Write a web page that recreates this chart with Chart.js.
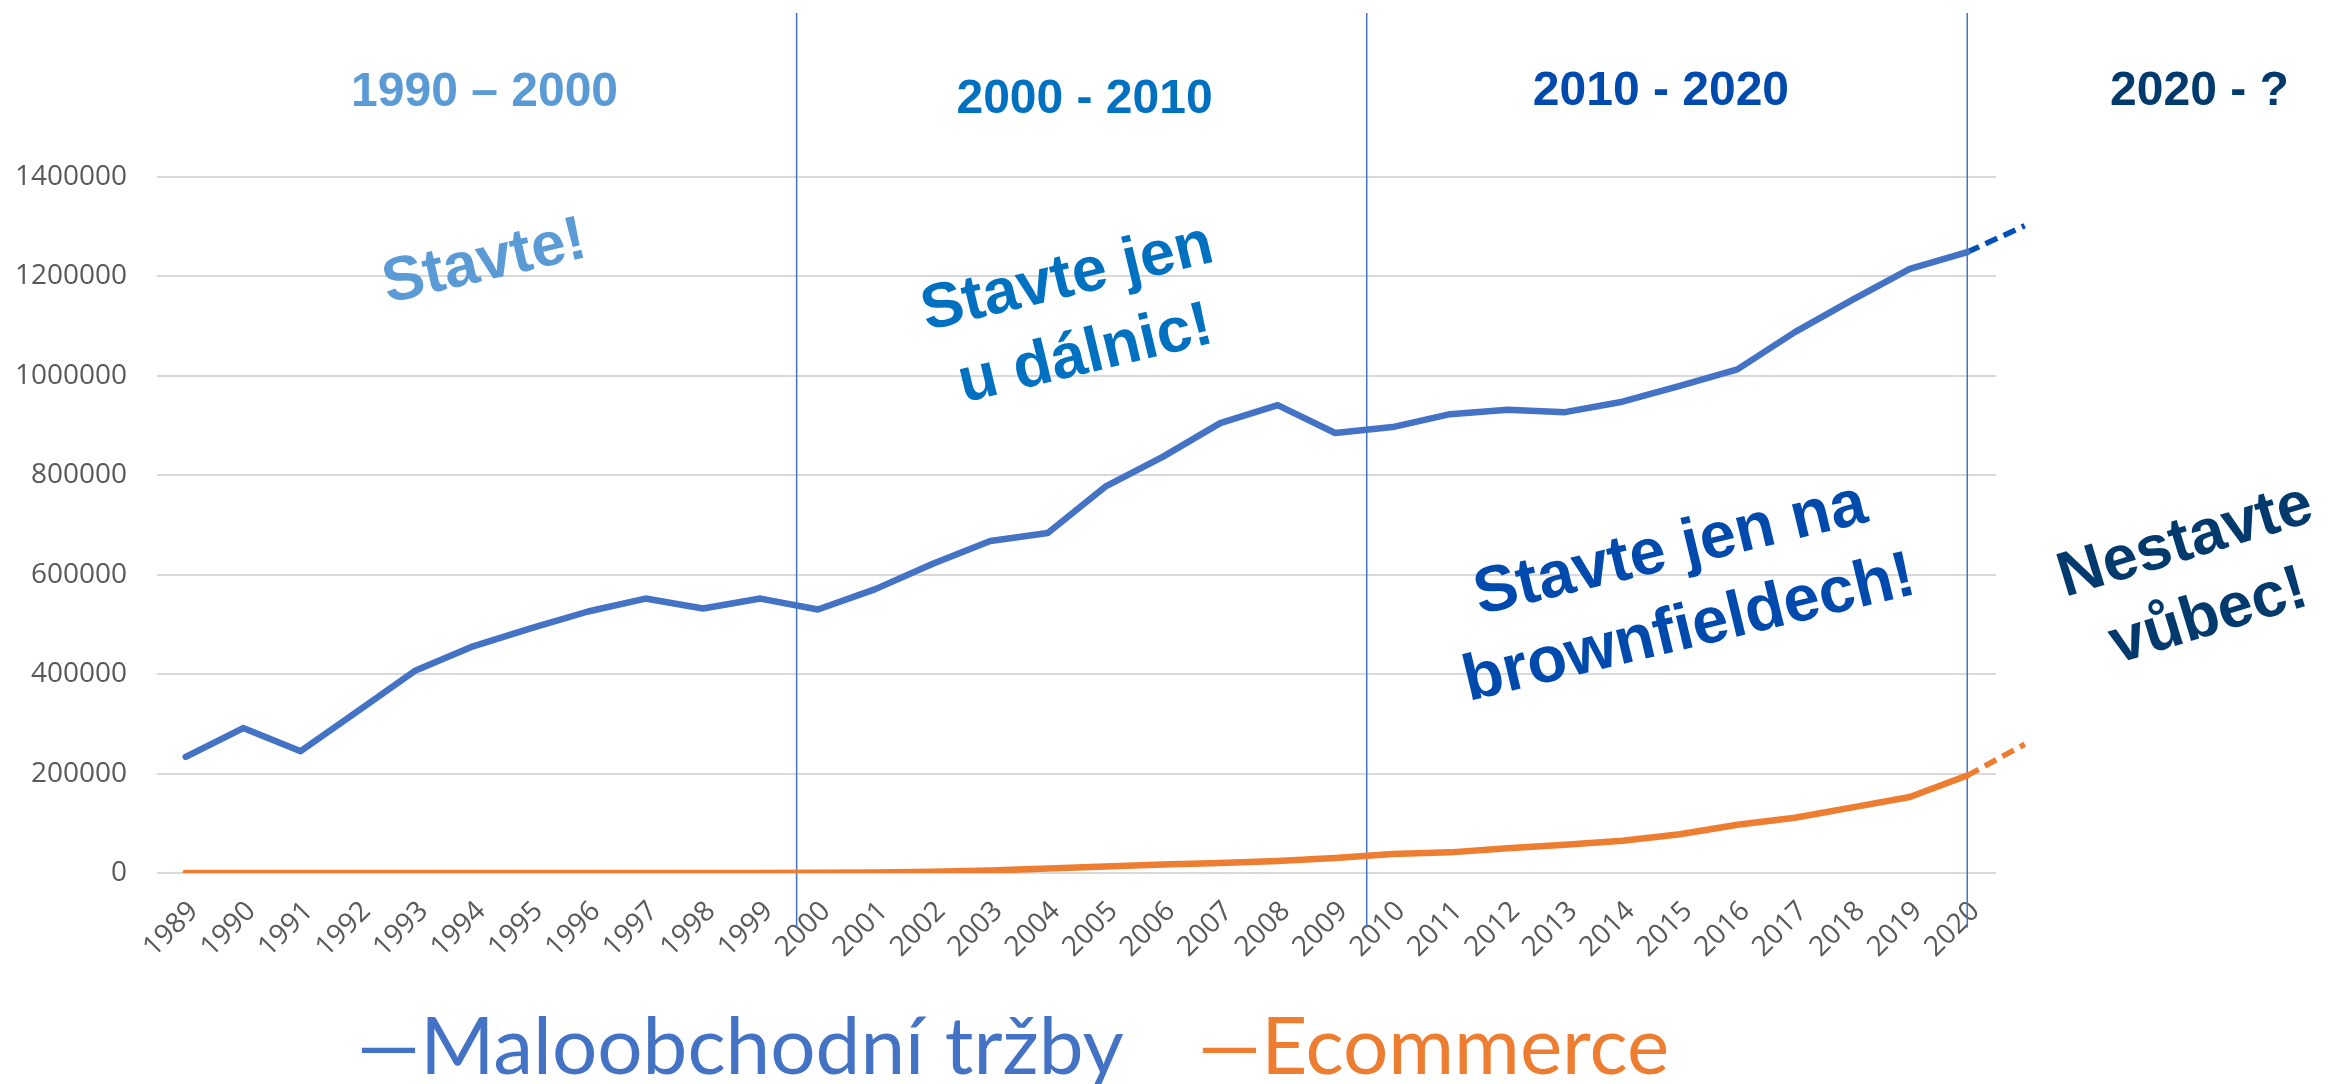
<!DOCTYPE html>
<html>
<head>
<meta charset="utf-8">
<script src="https://cdn.jsdelivr.net/npm/chart.js@4.4.1/dist/chart.umd.min.js"></script>
<style>
  html, body { margin: 0; padding: 0; background: #fff; }
  #wrap { width: 2328px; height: 1084px; }
</style>
</head>
<body>
<div id="wrap"><canvas id="chart"></canvas></div>
<script>
// data
var years = [1989, 1990, 1991, 1992, 1993, 1994, 1995, 1996, 1997, 1998, 1999,
             2000, 2001, 2002, 2003, 2004, 2005, 2006, 2007, 2008, 2009,
             2010, 2011, 2012, 2013, 2014, 2015, 2016, 2017, 2018, 2019, 2020];
var retail = [233500, 291500, 245000, 326000, 407500, 456000, 492000, 526000, 552000, 532000, 552000,
              530000, 571000, 622000, 668000, 684000, 777000, 837000, 905000, 941000, 885000,
              897000, 923000, 932000, 927000, 948000, 980000, 1013000, 1088000, 1153000, 1215000, 1249000];
var ecommerce = [0, 0, 0, 0, 0, 0, 0, 0, 0, 0, 0,
                 500, 1000, 2500, 5000, 9000, 13000, 17000, 20000, 24000, 30000,
                 38000, 41500, 50000, 57000, 65000, 78000, 97000, 111000, 132000, 153000, 196000];
var forecastYear = 2021;
var retailForecast = 1302000;
var ecommerceForecast = 259000;
var dividerYears = [1999.63, 2009.55, 2020];
var dividerTop = 1730000;
var dividerBottom = -110000;
var yTicks = [0, 200000, 400000, 600000, 800000, 1000000, 1200000, 1400000];

var seriesNames = ['Maloobchodní tržby', 'Ecommerce'];

// texts placed in data coordinates (year, value)
var notes = [
    { text: ['1990 – 2000'], x: 1994.2, y: 1570000, size: 48, angle: 0, color: '#5B9BD5' },
    { text: ['2000 - 2010'], x: 2004.64, y: 1555000, size: 48, angle: 0, color: '#0070C0' },
    { text: ['2010 - 2020'], x: 2014.67, y: 1572000, size: 48, angle: 0, color: '#004AAD' },
    { text: ['2020 - ?'], x: 2024.04, y: 1572000, size: 48, angle: 0, color: '#023A6E' },
    { text: ['Stavte!'], x: 1994.2, y: 1227000, size: 62, angle: -13, color: '#5B9BD5' },
    { text: ['Stavte jen', 'u dálnic!'], x: 2004.5, y: 1118000, size: 63, angle: -13.5, color: '#0070C0' },
    { text: ['Stavte jen na', 'brownfieldech!'], x: 2015.0, y: 569000, size: 65, angle: -13.5, color: '#004AAD' },
    { text: ['Nestavte', 'vůbec!'], x: 2024.0, y: 590000, size: 63, angle: -17, color: '#023A6E' }
];

function points(xs, ys) {
    return xs.map(function (x, i) { return { x: x, y: ys[i] }; });
}

var notesPlugin = {
    id: 'notes',
    afterDatasetsDraw: function (chart) {
        var ctx = chart.ctx;
        var sx = chart.scales.x, sy = chart.scales.y;
        notes.forEach(function (n) {
            ctx.save();
            ctx.translate(sx.getPixelForValue(n.x), sy.getPixelForValue(n.y));
            ctx.rotate(n.angle * Math.PI / 180);
            ctx.font = 'bold ' + n.size + 'px "Liberation Sans", Arial, sans-serif';
            ctx.fillStyle = n.color;
            ctx.textAlign = 'center';
            ctx.textBaseline = 'middle';
            var lh = n.size * 1.25;
            n.text.forEach(function (line, i) {
                ctx.fillText(line, 0, (i - (n.text.length - 1) / 2) * lh);
            });
            ctx.restore();
        });
    }
};

var datasets = [
    {
        label: seriesNames[0],
        data: points(years, retail),
        borderColor: '#4472C4',
        borderWidth: 6.5,
        borderCapStyle: 'round',
        borderJoinStyle: 'round',
        pointRadius: 0,
        order: 0
    },
    {
        label: seriesNames[1],
        data: points(years, ecommerce),
        borderColor: '#ED7D31',
        borderWidth: 6.5,
        borderCapStyle: 'round',
        borderJoinStyle: 'round',
        pointRadius: 0,
        order: 0
    },
    {
        label: 'retail forecast',
        data: points([years[years.length - 1], forecastYear], [retail[retail.length - 1], retailForecast]),
        borderColor: '#0050B8',
        borderWidth: 5.5,
        borderDash: [13, 7],
        pointRadius: 0,
        clip: false,
        order: 0
    },
    {
        label: 'ecommerce forecast',
        data: points([years[years.length - 1], forecastYear], [ecommerce[ecommerce.length - 1], ecommerceForecast]),
        borderColor: '#ED7D31',
        borderWidth: 5.5,
        borderDash: [13, 7],
        pointRadius: 0,
        clip: false,
        order: 0
    }
];

dividerYears.forEach(function (d) {
    datasets.push({
        label: 'divider',
        data: points([d, d], [dividerBottom, dividerTop]),
        borderColor: '#4472C4',
        borderWidth: 1.5,
        pointRadius: 0,
        clip: false,
        order: 1
    });
});

var tickFont = { family: '"Open Sans", "DejaVu Sans", sans-serif', size: 28 };

new Chart(document.getElementById('chart'), {
    type: 'line',
    data: { datasets: datasets },
    options: {
        responsive: true,
        maintainAspectRatio: false,
        animation: false,
        layout: { padding: { top: 177, right: 332, bottom: -14, left: -44 } },
        plugins: {
            tooltip: { enabled: false },
            legend: {
                position: 'bottom',
                labels: {
                    font: { family: 'Lato, "Noto Sans", sans-serif', size: 80 },
                    boxWidth: 34,
                    boxHeight: 0,
                    padding: 0,
                    generateLabels: function (chart) {
                        return chart.data.datasets.slice(0, 2).map(function (ds, i) {
                            return {
                                text: '—' + ds.label,
                                fontColor: ds.borderColor,
                                fillStyle: 'transparent',
                                strokeStyle: 'transparent',
                                lineWidth: 0,
                                hidden: false,
                                datasetIndex: i
                            };
                        });
                    }
                }
            }
        },
        scales: {
            x: {
                type: 'linear',
                min: years[0] - 0.5,
                max: years[years.length - 1] + 0.5,
                afterBuildTicks: function (scale) {
                    scale.ticks = years.map(function (v) { return { value: v }; });
                },
                afterFit: function (scale) { scale.height = 135; },
                grid: { display: false },
                border: { display: false },
                ticks: {
                    autoSkip: false,
                    minRotation: 45,
                    maxRotation: 45,
                    padding: 14,
                    labelOffset: 8,
                    color: '#595959',
                    font: tickFont,
                    callback: function (v) { return String(v); }
                }
            },
            y: {
                min: yTicks[0],
                max: yTicks[yTicks.length - 1],
                afterBuildTicks: function (scale) {
                    scale.ticks = yTicks.map(function (v) { return { value: v }; });
                },
                afterFit: function (scale) { scale.width = 201; },
                grid: { color: '#D9D9D9', lineWidth: 2, drawTicks: false },
                border: { display: false },
                ticks: {
                    padding: 30,
                    color: '#595959',
                    font: tickFont,
                    callback: function (v) { return String(v); }
                }
            }
        }
    },
    plugins: [notesPlugin]
});
</script>
</body>
</html>
